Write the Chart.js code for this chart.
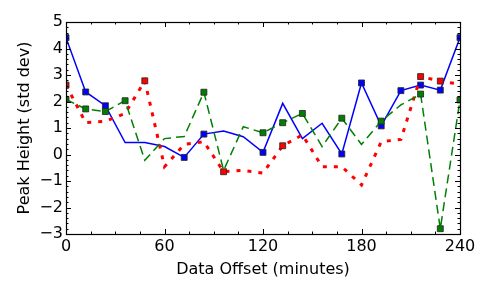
<!DOCTYPE html>
<html><head><meta charset="utf-8">
<script src="https://cdn.jsdelivr.net/npm/chart.js@4.4.1/dist/chart.umd.min.js"></script>
<style>html,body{margin:0;padding:0;background:#fff}canvas{display:block}</style>
</head><body>
<canvas id="c" width="491" height="294"></canvas>
<script>
// ---- data ----
const offsets = [0, 12, 24, 36, 48, 60, 72, 84, 96, 108, 120, 132, 144, 156, 168, 180, 192, 204, 216, 228, 240];
const blueSeries  = [4.41, 2.36, 1.84, 0.45, 0.45, 0.30, -0.11, 0.77, 0.89, 0.67, 0.08, 1.93, 0.60, 1.18, 0.02, 2.70, 1.08, 2.41, 2.62, 2.43, 4.41];
const redSeries   = [2.62, 1.20, 1.25, 1.55, 2.78, -0.46, 0.38, 0.48, -0.65, -0.60, -0.70, 0.33, 0.74, -0.46, -0.46, -1.15, 0.48, 0.57, 2.94, 2.77, 2.65];
const greenSeries = [2.08, 1.72, 1.62, 2.03, -0.22, 0.60, 0.68, 2.35, -0.60, 1.05, 0.82, 1.20, 1.55, 0.30, 1.37, 0.38, 1.26, 1.87, 2.28, -2.80, 2.06];
// indices of points flagged with a square marker
const blueMarked  = [0, 1, 2, 6, 7, 10, 14, 15, 16, 17, 18, 19, 20];
const redMarked   = [0, 4, 8, 11, 18, 19];
const greenMarked = [0, 1, 2, 3, 7, 10, 11, 12, 14, 16, 18, 19, 20];
const xTickLabels = [0, 60, 120, 180, 240];
const yTickLabels = [-3, -2, -1, 0, 1, 2, 3, 4, 5];
const xMinorStep = 15;
const yMinorStep = 0.2;

const FONT = {family: "'DejaVu Sans', sans-serif", size: 16};

function pts(ys) { return offsets.map((x, i) => ({x: x, y: ys[i]})); }
function markerRadius(list) { return ctx => list.includes(ctx.dataIndex) ? 4.2 : 0; }

const clipArea = {
  id: 'clipArea',
  beforeDatasetsDraw(chart) {
    const {ctx, chartArea: a} = chart;
    ctx.save();
    ctx.beginPath();
    ctx.rect(a.left, a.top, a.right - a.left, a.bottom - a.top);
    ctx.clip();
  },
  afterDatasetsDraw(chart) { chart.ctx.restore(); }
};

const frameTicks = {
  id: 'frameTicks',
  afterDraw(chart) {
    const {ctx, chartArea: a, scales: {x, y}} = chart;
    ctx.save();
    ctx.strokeStyle = '#000';
    ctx.lineWidth = 1;
    ctx.beginPath();
    const xmin = x.min, xmax = x.max, ymin = y.min, ymax = y.max;
    const nx = Math.round((xmax - xmin) / xMinorStep);
    for (let i = 0; i <= nx; i++) {
      const v = xmin + i * xMinorStep;
      const major = xTickLabels.some(t => Math.abs(t - v) < 1e-6);
      const L = major ? 5 : 2.5;
      const px = Math.round(x.getPixelForValue(v)) + 0.5;
      ctx.moveTo(px, a.bottom); ctx.lineTo(px, a.bottom - L);
      ctx.moveTo(px, a.top); ctx.lineTo(px, a.top + L);
    }
    const ny = Math.round((ymax - ymin) / yMinorStep);
    for (let i = 0; i <= ny; i++) {
      const v = ymin + i * yMinorStep;
      const major = yTickLabels.some(t => Math.abs(t - v) < 1e-6);
      const L = major ? 5 : 2.5;
      const py = Math.round(y.getPixelForValue(v)) + 0.5;
      ctx.moveTo(a.left, py); ctx.lineTo(a.left + L, py);
      ctx.moveTo(a.right, py); ctx.lineTo(a.right - L, py);
    }
    ctx.stroke();
    ctx.lineWidth = 1.2;
    ctx.strokeRect(Math.round(a.left) + 0.5, Math.round(a.top) + 0.5, Math.round(a.right - a.left), Math.round(a.bottom - a.top));
    ctx.restore();
  }
};

const whiteBg = {
  id: 'whiteBg',
  beforeDraw(chart) {
    const c = chart.ctx; c.save(); c.fillStyle = '#fff'; c.fillRect(0, 0, chart.width, chart.height); c.restore();
  }
};

new Chart(document.getElementById('c'), {
  type: 'line',
  data: {
    datasets: [
      {
        label: 'green', data: pts(greenSeries), order: 0,
        borderColor: '#008000', borderWidth: 1.5, borderDash: [9, 5],
        pointStyle: 'rect', pointRadius: markerRadius(greenMarked),
        pointBackgroundColor: '#008000', pointBorderColor: 'rgba(40,40,40,0.85)', pointBorderWidth: 1,
        tension: 0, fill: false, clip: 0
      },
      {
        label: 'red', data: pts(redSeries), order: 1,
        borderColor: '#ff0000', borderWidth: 3, borderDash: [4, 7],
        pointStyle: 'rect', pointRadius: markerRadius(redMarked),
        pointBackgroundColor: '#ff0000', pointBorderColor: 'rgba(40,40,40,0.85)', pointBorderWidth: 1,
        tension: 0, fill: false, clip: 0
      },
      {
        label: 'blue', data: pts(blueSeries), order: 2,
        borderColor: '#0000ff', borderWidth: 1.5,
        pointStyle: 'rect', pointRadius: markerRadius(blueMarked),
        pointBackgroundColor: '#0000ff', pointBorderColor: 'rgba(40,40,40,0.85)', pointBorderWidth: 1,
        tension: 0, fill: false, clip: 0
      }
    ]
  },
  options: {
    responsive: false,
    animation: false,
    devicePixelRatio: 1,
    layout: {padding: {top: 22, right: 31, bottom: 0, left: 0}},
    plugins: {legend: {display: false}, tooltip: {enabled: false}},
    scales: {
      x: {
        type: 'linear', min: 0, max: 240,
        afterBuildTicks: s => { s.ticks = xTickLabels.map(v => ({value: v})); },
        afterFit: s => { s.height = 60; },
        grid: {display: false, drawTicks: false},
        border: {display: false},
        ticks: {color: '#000', font: FONT, padding: 3, maxRotation: 0, autoSkip: false},
        title: {display: true, text: 'Data Offset (minutes)', color: '#000', font: FONT, padding: {top: 0, bottom: 14.4}}
      },
      y: {
        type: 'linear', min: -3, max: 5,
        afterBuildTicks: s => { s.ticks = yTickLabels.map(v => ({value: v})); },
        afterFit: s => { s.width = 66; },
        grid: {display: false, drawTicks: false},
        border: {display: false},
        ticks: {color: '#000', font: FONT, padding: 3, autoSkip: false,
                callback: v => String(v).replace('-', '\u2212')},
        title: {display: true, text: 'Peak Height (std dev)', color: '#000', font: FONT, padding: {top: 15.4, bottom: 0}}
      }
    }
  },
  plugins: [whiteBg, clipArea, frameTicks]
});
</script>
</body></html>
